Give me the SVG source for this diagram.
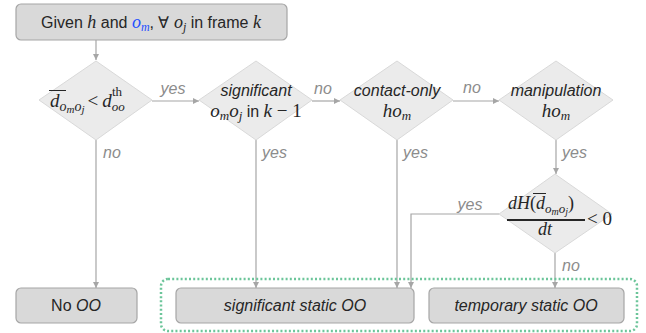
<svg xmlns="http://www.w3.org/2000/svg" width="646" height="333" viewBox="0 0 646 333">
  <defs>
    <marker id="arrow" viewBox="0 0 6 6" refX="6" refY="3" markerWidth="6" markerHeight="6" orient="auto" markerUnits="userSpaceOnUse">
      <path d="M0,0 L6,3 L0,6 z" fill="#a6a6a6"/>
    </marker>
    <style>
      .box { fill: #d9d9d9; stroke: #a6a6a6; stroke-width: 1.2; }
      .dia { fill: #ebebeb; stroke: #d9d9d9; stroke-width: 1; }
      .edge { fill: none; stroke: #a6a6a6; stroke-width: 1.2; }
      .arr { marker-end: url(#arrow); }
      .lbl { font-family: "Liberation Sans", Arial, sans-serif; font-style: italic; font-size: 16px; fill: #8c8c8c; }
      .txt { font-family: "Liberation Sans", Arial, sans-serif; font-size: 16px; fill: #262626; }
      .it { font-style: italic; }
      .m { font-family: "Liberation Serif", "DejaVu Serif", serif; font-style: italic; }
      .mr { font-family: "Liberation Serif", "DejaVu Serif", serif; font-style: normal; }
      .ink { fill: #262626; }
      .bar { stroke: #262626; stroke-width: 1; }
      .group { fill: none; stroke: #6cc59a; stroke-width: 2.5; stroke-dasharray: 2 2.2; }
    </style>
  </defs>

  <!-- connectors -->
  <g id="connectors">
    <path class="edge arr" d="M96,40 V60"/>
    <path class="edge arr" d="M152,101 H199"/>
    <path class="edge arr" d="M312,101 H340"/>
    <path class="edge arr" d="M453,101 H499"/>
    <path class="edge arr" d="M96,140 V288"/>
    <path class="edge arr" d="M256,140 V288"/>
    <path class="edge arr" d="M397,140 V288"/>
    <path class="edge arr" d="M556,140 V174"/>
    <path class="edge arr" d="M499,214 H411 V288"/>
    <path class="edge arr" d="M555,253 V288"/>
    <text class="lbl" x="173" y="94" text-anchor="middle">yes</text>
    <text class="lbl" x="103" y="158">no</text>
    <text class="lbl" x="262" y="158">yes</text>
    <text class="lbl" x="323" y="94" text-anchor="middle">no</text>
    <text class="lbl" x="403" y="158">yes</text>
    <text class="lbl" x="472" y="93" text-anchor="middle">no</text>
    <text class="lbl" x="562" y="158">yes</text>
    <text class="lbl" x="470" y="210" text-anchor="middle">yes</text>
    <text class="lbl" x="562" y="271">no</text>
  </g>

  <!-- grouping of the static outcomes -->
  <rect class="group" x="161" y="279" width="476" height="52" rx="7"/>

  <g id="start">
    <rect class="box" x="16" y="4" width="271" height="36" rx="5"/>
    <text class="txt" x="151" y="28" text-anchor="middle">Given <tspan class="m" font-size="18">h</tspan> and <tspan class="m" font-size="18" fill="#1f4fff">o</tspan><tspan class="m" font-size="12" fill="#1f4fff" dy="3">m</tspan><tspan dy="-3">, ∀ </tspan><tspan class="m" font-size="18">o</tspan><tspan class="m" font-size="12" dy="3">j</tspan><tspan dy="-3"> in frame </tspan><tspan class="m" font-size="18">k</tspan></text>
  </g>

  <g id="dist-check">
    <polygon class="dia" points="96,61 152,100 96,140 39,100"/>
    <line class="bar" x1="49" y1="90.5" x2="66" y2="90.5"/>
    <text class="ink" x="50" y="107"><tspan class="m" font-size="19">d</tspan><tspan class="m" font-size="14" dy="4">o</tspan><tspan class="m" font-size="11" dy="2">m</tspan><tspan class="m" font-size="14" dy="-2">o</tspan><tspan class="m" font-size="11" dy="2">j</tspan><tspan class="mr" font-size="19" dy="-6" dx="3">&lt;</tspan><tspan class="m" font-size="19" dx="4">d</tspan><tspan class="m" font-size="13" dy="4">oo</tspan></text>
    <text class="mr ink" x="112" y="96" font-size="13">th</text>
  </g>

  <g id="prev-frame">
    <polygon class="dia" points="256,61 312,100 256,140 199,100"/>
    <text class="txt it" x="256" y="96" text-anchor="middle">significant</text>
    <text class="ink" x="256" y="117" text-anchor="middle"><tspan class="m" font-size="19">o</tspan><tspan class="m" font-size="13" dy="3">m</tspan><tspan class="m" font-size="19" dy="-3">o</tspan><tspan class="m" font-size="13" dy="3">j</tspan><tspan font-family="Liberation Sans, sans-serif" font-size="16" dy="-3"> in </tspan><tspan class="m" font-size="19">k</tspan><tspan class="mr" font-size="19"> − 1</tspan></text>
  </g>

  <g id="contact-only">
    <polygon class="dia" points="397,61 453,100 397,140 340,100"/>
    <text class="txt it" x="397" y="96" text-anchor="middle">contact-only</text>
    <text class="ink" x="397" y="117" text-anchor="middle"><tspan class="m" font-size="19">ho</tspan><tspan class="m" font-size="13" dy="3">m</tspan></text>
  </g>

  <g id="manipulation">
    <polygon class="dia" points="556,61 613,100 556,140 499,100"/>
    <text class="txt it" x="556" y="96" text-anchor="middle">manipulation</text>
    <text class="ink" x="556" y="117" text-anchor="middle"><tspan class="m" font-size="19">ho</tspan><tspan class="m" font-size="13" dy="3">m</tspan></text>
  </g>

  <g id="trend-check">
    <polygon class="dia" points="555,174 612,214 555,253 499,214"/>
    <line class="bar" x1="533" y1="193.5" x2="546" y2="193.5"/>
    <text class="ink" x="508" y="209"><tspan class="m" font-size="18">dH</tspan><tspan class="mr" font-size="18">(</tspan><tspan class="m" font-size="18">d</tspan><tspan class="m" font-size="13" dy="4">o</tspan><tspan class="m" font-size="10" dy="2">m</tspan><tspan class="m" font-size="13" dy="-2">o</tspan><tspan class="m" font-size="10" dy="2">j</tspan><tspan class="mr" font-size="18" dy="-6">)</tspan></text>
    <line x1="507" y1="220" x2="585" y2="220" stroke="#262626" stroke-width="2"/>
    <text class="m ink" x="545" y="235" text-anchor="middle" font-size="18">dt</text>
    <text class="mr ink" x="587" y="225" font-size="19">&lt; 0</text>
  </g>

  <g id="no-oo">
    <rect class="box" x="16" y="288" width="121" height="35" rx="5"/>
    <text class="txt" x="76" y="311" text-anchor="middle">No <tspan class="it">OO</tspan></text>
  </g>

  <g id="significant-static">
    <rect class="box" x="176" y="288" width="238" height="35" rx="5"/>
    <text class="txt it" x="295" y="311" text-anchor="middle">significant static OO</text>
  </g>

  <g id="temporary-static">
    <rect class="box" x="429" y="288" width="195" height="35" rx="5"/>
    <text class="txt it" x="526" y="311" text-anchor="middle">temporary static OO</text>
  </g>
</svg>
